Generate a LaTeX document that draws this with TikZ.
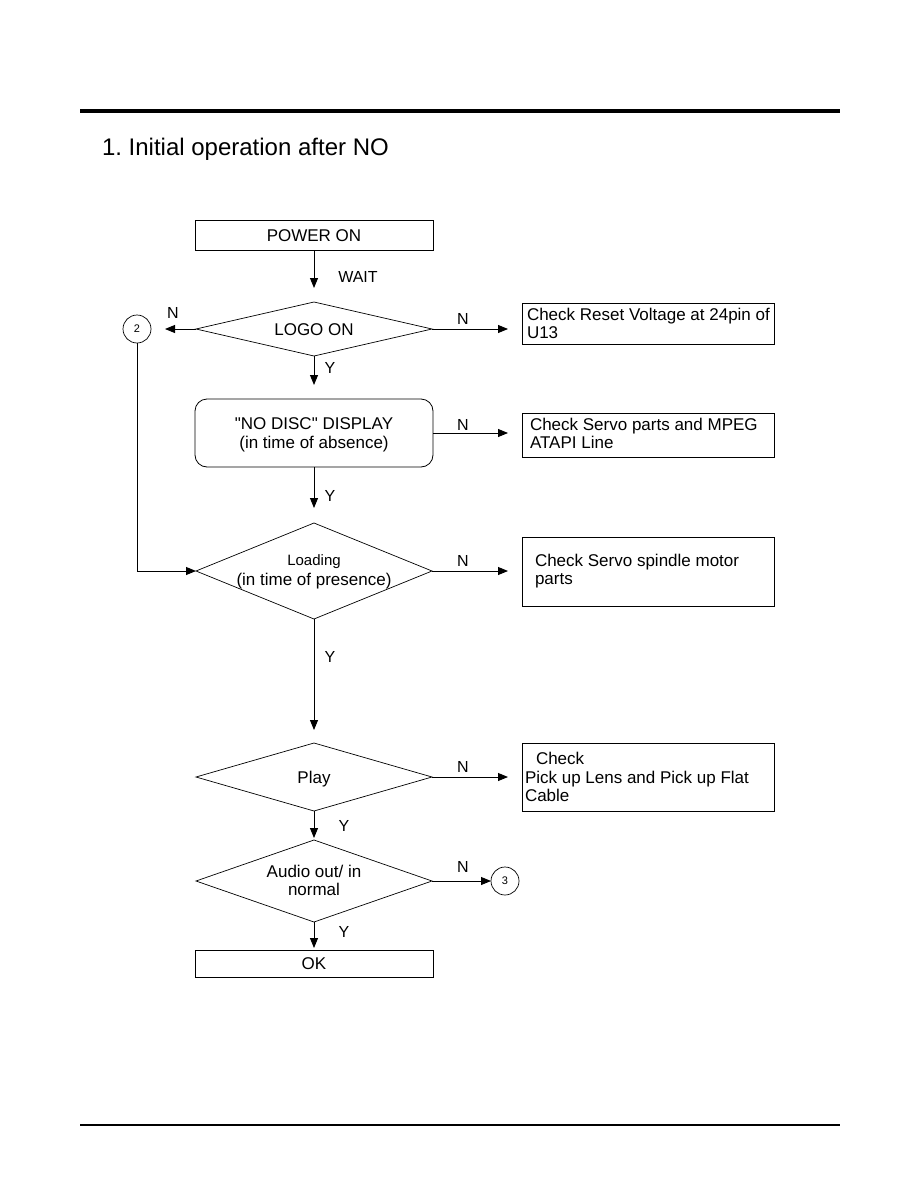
\documentclass[tikz,border=0pt]{standalone}
\usepackage{fontspec}
\setmainfont{Liberation Sans}[Ligatures=TeXOff]
\usetikzlibrary{shapes.geometric,arrows.meta}
\begin{document}
\frenchspacing
\begin{tikzpicture}[x=1pt,y=-1pt,
  every node/.style={font=\fontsize{17}{19}\selectfont, inner sep=0pt, outer sep=0pt},
  flowbox/.style={draw, line width=0.9pt, minimum width=238pt},
  checkbox/.style={draw, line width=0.9pt, minimum width=252pt},
  dia/.style={draw, diamond, line width=0.7pt, minimum width=236pt},
  conn/.style={circle, draw, line width=0.7pt, minimum size=28pt, font=\fontsize{11}{13}\selectfont},
  txt/.style={anchor=base},
  ltxt/.style={anchor=base west},
  lbl/.style={font=\fontsize{16}{17}\selectfont},
  arr/.style={line width=0.9pt, -{Triangle[length=10pt,width=8pt]}}]
\useasboundingbox (0,0) rectangle (918,1188);
% page rules and title
\coordinate (tl) at (80,111);
\coordinate (tr) at (840,111);
\draw[line width=4pt] (tl) -- (tr);
\coordinate (bl) at (80,1125);
\coordinate (br) at (840,1125);
\draw[line width=1.5pt] (bl) -- (br);
\node[anchor=base west, font=\fontsize{24}{28}\selectfont] (title) at (102,155) {1. Initial operation after NO};

% main column shapes
\node[flowbox, minimum height=30pt] (power) at (314,235) {};
\node[dia, minimum height=54pt] (logo) at (314,329) {};
\node[draw, line width=0.8pt, rounded corners=12pt, minimum width=238pt, minimum height=68pt] (nodisc) at (314,433) {};
\node[dia, minimum height=96pt] (load) at (314,571) {};
\node[dia, minimum height=68pt] (play) at (314,777) {};
\node[dia, minimum height=82pt] (audio) at (314,881) {};
\node[flowbox, minimum height=27pt] (ok) at (314,963.5) {};

% main column texts
\node[txt] (powert) at (314,241) {POWER ON};
\node[txt] (logot) at (314,335) {LOGO ON};
\node[txt] (nodisct1) at (314,429) {"NO DISC" DISPLAY};
\node[txt] (nodisct2) at (314,448) {(in time of absence)};
\node[txt, font=\fontsize{15}{17}\selectfont] (loadt1) at (314,565) {Loading};
\node[txt] (loadt2) at (314,585) {(in time of presence)};
\node[txt] (playt) at (314,783) {Play};
\node[txt] (audiot1) at (314,877) {Audio out/ in};
\node[txt] (audiot2) at (314,895) {normal};
\node[txt] (okt) at (314,969) {OK};

% connector circles
\node[conn] (c2) at (137,329) {2};
\node[conn] (c3) at (505,881) {3};

% check boxes
\node[checkbox, minimum height=41pt] (b1) at (648,323.5) {};
\node[ltxt] (b1t1) at (527,320) {Check Reset Voltage at 24pin of};
\node[ltxt] (b1t2) at (527,338) {U13};
\node[checkbox, minimum height=44pt] (b2) at (648,435) {};
\node[ltxt] (b2t1) at (530,430) {Check Servo parts and MPEG};
\node[ltxt] (b2t2) at (530,448) {ATAPI Line};
\node[checkbox, minimum height=69pt] (b3) at (648,571.5) {};
\node[ltxt] (b3t1) at (535,566) {Check Servo spindle motor};
\node[ltxt] (b3t2) at (535,584) {parts};
\node[checkbox, minimum height=68pt] (b4) at (648,777) {};
\node[ltxt] (b4t1) at (536,764) {Check};
\node[ltxt] (b4t2) at (525,783) {Pick up Lens and Pick up Flat};
\node[ltxt] (b4t3) at (525,801) {Cable};

% vertical arrows
\draw[arr, shorten >=14pt] (power.south) -- (logo.north);
\draw[arr, shorten >=14pt] (logo.south) -- (nodisc.north);
\draw[arr, shorten >=15pt] (nodisc.south) -- (load.north);
\draw[arr, shorten >=13pt] (load.south) -- (play.north);
\draw[arr, shorten >=2pt] (play.south) -- (audio.north);
\draw[arr, shorten >=2pt] (audio.south) -- (ok.north);

% horizontal arrows
\draw[arr, shorten >=14pt] (logo.east) -- (logo.east -| b1.west);
\draw[arr, shorten >=14pt] (nodisc.east) -- (nodisc.east -| b2.west);
\draw[arr, shorten >=14pt] (load.east) -- (load.east -| b3.west);
\draw[arr, shorten >=14pt] (play.east) -- (play.east -| b4.west);
\draw[arr] (audio.east) -- (c3.west);
\draw[arr, shorten >=14pt] (logo.west) -- (c2.east);
\draw[arr] (c2.south) |- (load.west);

% labels
\node[lbl] (wait) at (358,277) {WAIT};
\node[lbl] (nl) at (173,313) {N};
\node[lbl] (n1) at (463,319) {N};
\node[lbl] (y1) at (330,368) {Y};
\node[lbl] (n2) at (463,425) {N};
\node[lbl] (y2) at (330,496) {Y};
\node[lbl] (n3) at (463,561) {N};
\node[lbl] (y3) at (330,657) {Y};
\node[lbl] (n4) at (463,767) {N};
\node[lbl] (y4) at (344,826) {Y};
\node[lbl] (n5) at (463,867) {N};
\node[lbl] (y5) at (344,932) {Y};
\end{tikzpicture}
\end{document}
